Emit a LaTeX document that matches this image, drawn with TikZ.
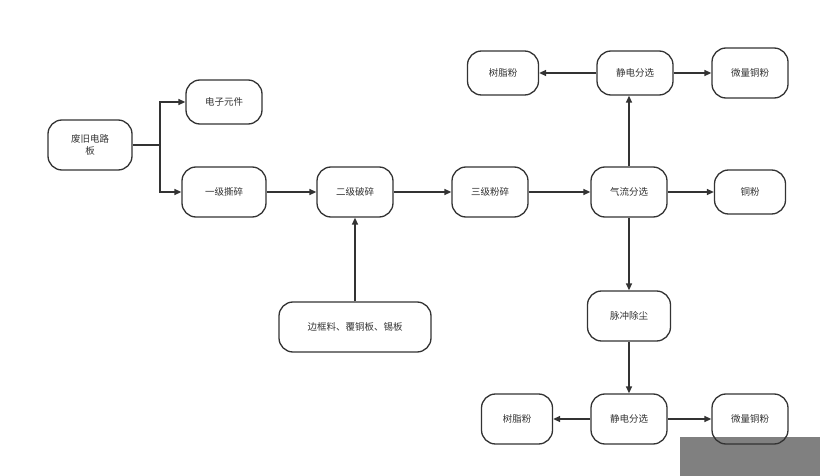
\documentclass[tikz,border=0pt]{standalone}
\usepackage{fontspec}
\setmainfont{Noto Sans CJK SC}
\usetikzlibrary{arrows.meta}
\definecolor{ln}{HTML}{333333}
\begin{document}
\begin{tikzpicture}[x=1pt,y=-1pt,
 box/.style={draw=ln,line width=1.3pt,rounded corners=14pt,minimum width=#1,align=center,font=\fontsize{9.5}{12}\selectfont,text=ln,inner sep=0pt},
 box/.default=76pt,
 arr/.style={draw=ln,line width=1.3pt,-{Triangle[length=7pt,width=6pt]}}]
\useasboundingbox (0,0) rectangle (820,476);
\fill[gray!95!white,fill=gray] (680,437) rectangle (820,476);
\node[box=84pt,minimum height=50pt] (a) at (90,145) {废旧电路\\板};
\node[box=76pt,minimum height=44pt] (b) at (224,102) {电子元件};
\node[box=84pt,minimum height=50pt] (c) at (224,192) {一级撕碎};
\node[box=76pt,minimum height=50pt] (d) at (355,192) {二级破碎};
\node[box=76pt,minimum height=50pt] (e) at (490,192) {三级粉碎};
\node[box=76pt,minimum height=50pt] (f) at (629,192) {气流分选};
\node[box=71pt,minimum height=44pt] (g) at (750,192) {铜粉};
\node[box=76pt,minimum height=44pt] (h) at (635,73) {静电分选};
\node[box=71pt,minimum height=44pt] (i) at (503,73) {树脂粉};
\node[box=76pt,minimum height=50pt] (j) at (750,73) {微量铜粉};
\node[box=152pt,minimum height=50pt] (k) at (355,327) {边框料、覆铜板、锡板};
\node[box=83pt,minimum height=50pt] (l) at (629,316) {脉冲除尘};
\node[box=76pt,minimum height=50pt] (m) at (629,419) {静电分选};
\node[box=71pt,minimum height=50pt] (n) at (517,419) {树脂粉};
\node[box=76pt,minimum height=50pt] (o) at (750,419) {微量铜粉};
\coordinate (s) at (160,145);
\draw[draw=ln,line width=1.3pt] (a.east) -- (s);
\draw[arr] (s) |- (b.west);
\draw[arr] (s) |- (c.west);
\draw[arr] (c) -- (d);
\draw[arr] (d) -- (e);
\draw[arr] (e) -- (f);
\draw[arr] (f) -- (g);
\draw[arr] (f.north) -- (f.north|-h.south);
\draw[arr] (h) -- (i);
\draw[arr] (h) -- (j);
\draw[arr] (k) -- (d);
\draw[arr] (f) -- (l);
\draw[arr] (l) -- (m);
\draw[arr] (m) -- (n);
\draw[arr] (m) -- (o);
\end{tikzpicture}
\end{document}
